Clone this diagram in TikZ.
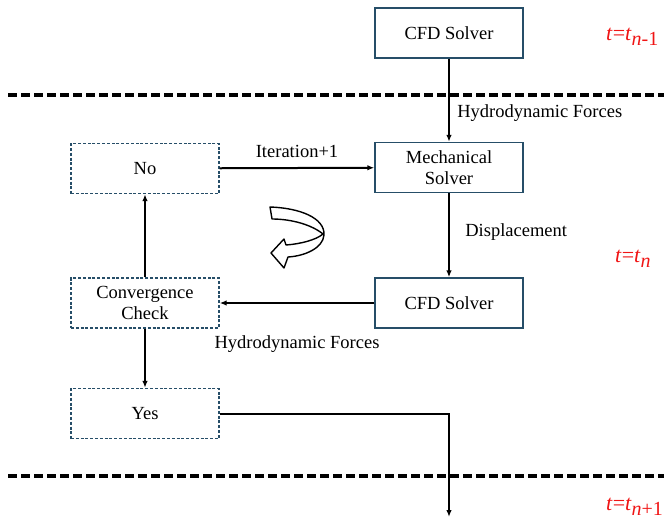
\documentclass[tikz,border=0pt]{standalone}
\usepackage{fontspec}
\setmainfont{Liberation Serif}
\usepackage{tikz}
\usetikzlibrary{arrows.meta, calc}
\definecolor{boxblue}{RGB}{38,78,104}
\definecolor{tred}{RGB}{240,20,20}
\tikzset{
  solver/.style={draw=boxblue, line width=1.4pt, minimum width=148pt, minimum height=50pt, align=center, inner sep=2pt},
  check/.style={solver, dash pattern=on 3pt off 1.8pt},
  flow/.style={line width=2pt, -{Latex[length=7pt,width=5.5pt]}},
  sepline/.style={line width=3.2pt, dash pattern=on 9pt off 4pt},
  tlabel/.style={text=tred, anchor=base west, inner sep=0pt, font=\fontsize{22}{24}\selectfont}
}
\newcommand{\tsub}[1]{\textit{t}=\textit{t}\raisebox{-0.5ex}{\fontsize{20}{20}\selectfont #1}}

\begin{document}
\begin{tikzpicture}[x=1pt, y=-1pt, font=\rmfamily\fontsize{18.5}{20.5}\selectfont]
  \useasboundingbox (0,0) rectangle (664,522);
  % time levels
  \draw[sepline] (8,95) -- (664,95);
  \draw[sepline] (8,476) -- (664,476);
  \node[tlabel] (tprev) at (606,40) {\tsub{\textit{n}-1}};
  \node[tlabel] (tnow) at (615,262) {\tsub{\textit{n}}};
  \node[tlabel] (tnext) at (606,510) {\tsub{\textit{n}+1}};
  % solvers
  \node[solver] (cfdprev) at (449,33) {CFD Solver};
  \node[solver] (mech) at (449,167.5) {Mechanical\\Solver};
  \node[solver] (cfd) at (449,303) {CFD Solver};
  % coupling check
  \node[check] (no) at (145,168.5) {No};
  \node[check] (conv) at (145,303) {Convergence\\Check};
  \node[check] (yes) at (145,413.5) {Yes};
  \coordinate (out) at (449,517);
  % connectors
  \draw[flow] (cfdprev) -- (mech) node[pos=0.66, right=4pt] {Hydrodynamic Forces};
  \draw[flow] (mech) -- (cfd) node[midway, right=12pt, yshift=3pt] {Displacement};
  \draw[flow] (cfd) -- (conv) node[midway, below=28pt] {Hydrodynamic Forces};
  \draw[flow] (conv) -- (no);
  \draw[flow] (no) -- (mech) node[midway, above=6pt] {Iteration+1};
  \draw[flow] (conv) -- (yes);
  \draw[flow] (yes.east) -| (out);
  % loop symbol
  \draw[line width=1.4pt, fill=white, line join=round]
    (270,207) .. controls (300,208) and (325,218) .. (324,235)
    .. controls (323,248) and (305,256) .. (288,257) -- (284,268) -- (271,253) -- (284,239) -- (286,245)
    .. controls (300,244) and (316,240) .. (323,234)
    .. controls (312,225) and (292,219) .. (272,219) -- cycle;
\end{tikzpicture}
\end{document}
